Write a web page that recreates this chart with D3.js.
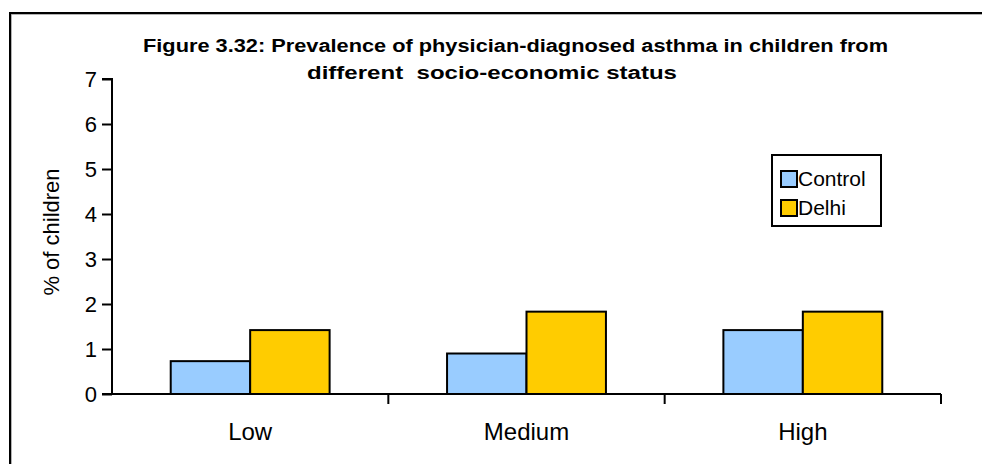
<!DOCTYPE html>
<html>
<head>
<meta charset="utf-8">
<script src="https://cdn.jsdelivr.net/npm/d3@7"></script>
<style>
  html, body { margin: 0; padding: 0; background: #fff; overflow: hidden; }
  svg { display: block; }
  text { font-family: "Liberation Sans", Arial, sans-serif; }
</style>
</head>
<body>
<svg id="chart" width="982" height="464"></svg>
<script>
const categories = ["Low", "Medium", "High"];
const seriesNames = ["Control", "Delhi"];
const controlValues = [0.73, 0.90, 1.42];
const delhiValues = [1.42, 1.83, 1.83];
const yTicks = [0, 1, 2, 3, 4, 5, 6, 7];
const titleLines = ["Figure 3.32: Prevalence of physician-diagnosed asthma in children from", "different  socio-economic status"];
const colors = ["#99CCFF", "#FFCC00"];

const svg = d3.select("#chart");

// outer frame (only left and top edges visible)
svg.append("path").attr("d", "M11,470V14H990").attr("fill", "none").attr("stroke", "#999").attr("stroke-width", 1.5);
svg.append("path").attr("d", "M10,470V13H990").attr("fill", "none").attr("stroke", "#000").attr("stroke-width", 2);

const plot = { left: 112, right: 941, top: 79, bottom: 394 };

const x0 = d3.scaleBand().domain(categories).range([plot.left, plot.right]).padding(0);
const groupW = x0.bandwidth() * 0.575;
const x1 = d3.scaleBand().domain(seriesNames).range([0, groupW]).padding(0);
const y = d3.scaleLinear().domain([0, 7]).range([plot.bottom, plot.top]);

const data = categories.map((c, i) => ({ cat: c, vals: [controlValues[i], delhiValues[i]] }));

// bars
const g = svg.append("g");
data.forEach(d => {
  d.vals.forEach((v, j) => {
    g.append("rect")
      .attr("x", x0(d.cat) + (x0.bandwidth() - groupW) / 2 + x1(seriesNames[j]))
      .attr("y", y(v))
      .attr("width", x1.bandwidth())
      .attr("height", y(0) - y(v))
      .attr("fill", colors[j])
      .attr("stroke", "#000")
      .attr("stroke-width", 2);
  });
});

// y axis
const yAxis = d3.axisLeft(y).tickValues(yTicks).tickSize(10).tickPadding(5).tickFormat(d3.format("d"));
const yg = svg.append("g").attr("transform", `translate(${plot.left},0)`).call(yAxis);
yg.select(".domain").attr("stroke", "#000").attr("stroke-width", 2).attr("d", `M-10,${plot.top}H0V${plot.bottom}`);
yg.selectAll(".tick line").attr("stroke", "#000").attr("stroke-width", 2);
yg.selectAll(".tick text").attr("font-size", 22).attr("fill", "#000").attr("font-family", "Liberation Sans, Arial, sans-serif");

// x axis
const xAxis = d3.axisBottom(x0).tickSize(0).tickPadding(0);
const xg = svg.append("g").attr("transform", `translate(0,${plot.bottom})`).call(xAxis);
xg.select(".domain").attr("stroke", "#000").attr("stroke-width", 2).attr("d", `M${plot.left - 10},0H${plot.right}`);
xg.selectAll(".tick text").attr("font-size", 24).attr("fill", "#000").attr("dy", null).attr("y", 46)
  .attr("font-family", "Liberation Sans, Arial, sans-serif");
// category separator ticks
const sepTicks = categories.slice(1).map(c => x0(c)).concat([plot.right]);
xg.selectAll(".sep").data(sepTicks).enter().append("line")
  .attr("x1", d => d).attr("x2", d => d).attr("y1", 0).attr("y2", 10)
  .attr("stroke", "#000").attr("stroke-width", 2);

// y axis title
svg.append("text").attr("transform", `translate(59,232) rotate(-90)`)
  .attr("text-anchor", "middle").attr("font-size", 22).attr("fill", "#000").text("% of children");

// title
svg.append("text").attr("x", 143).attr("y", 52).attr("font-size", 18).attr("font-weight", "bold")
  .attr("textLength", 745).attr("lengthAdjust", "spacingAndGlyphs").text(titleLines[0]);
svg.append("text").attr("x", 307).attr("y", 79).attr("font-size", 18).attr("font-weight", "bold")
  .attr("textLength", 370).attr("lengthAdjust", "spacingAndGlyphs").style("white-space", "pre").text(titleLines[1]);

// legend
const lg = svg.append("g");
lg.append("rect").attr("x", 772).attr("y", 155).attr("width", 109).attr("height", 71)
  .attr("fill", "#fff").attr("stroke", "#000").attr("stroke-width", 2);
seriesNames.forEach((s, i) => {
  const yy = 171 + i * 29;
  lg.append("rect").attr("x", 781).attr("y", yy).attr("width", 16).attr("height", 16)
    .attr("fill", colors[i]).attr("stroke", "#000").attr("stroke-width", 2);
  lg.append("text").attr("x", 798).attr("y", yy + 15).attr("font-size", 21).attr("fill", "#000").text(s);
});
</script>
</body>
</html>
